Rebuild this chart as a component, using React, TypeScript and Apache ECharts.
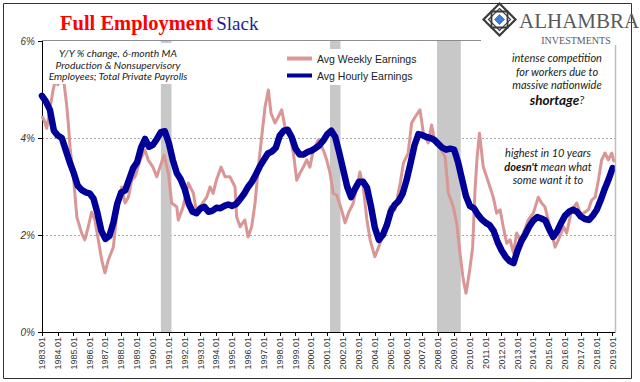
import React, { useEffect, useRef } from "react";
import * as echarts from "echarts";

// ---------- data ----------
const yearTicks: number[] = [
  1983, 1984, 1985, 1986, 1987, 1988, 1989, 1990, 1991, 1992, 1993, 1994, 1995,
  1996, 1997, 1998, 1999, 2000, 2001, 2002, 2003, 2004, 2005, 2006, 2007, 2008,
  2009, 2010, 2011, 2012, 2013, 2014, 2015, 2016, 2017, 2018, 2019,
];
const yTickValues: number[] = [0, 2, 4, 6];

// Avg Hourly Earnings, quarterly from 1983 Q1
const hourlyStart = 1983;
const hourlyStep = 0.25;
const hourlyValues: number[] = [
  4.87, 4.75, 4.58, 4.15, 4.05, 4.0, 3.75, 3.5, 3.28, 3.02, 2.93, 2.88,
  2.86, 2.75, 2.45, 2.08, 1.92, 1.98, 2.25, 2.65, 2.88, 2.92, 3.15, 3.38,
  3.5, 3.8, 3.98, 3.82, 3.86, 3.98, 4.12, 4.14, 3.9, 3.55, 3.28, 3.15,
  2.95, 2.65, 2.48, 2.45, 2.55, 2.58, 2.48, 2.5, 2.56, 2.55, 2.6, 2.63,
  2.6, 2.64, 2.74, 2.85, 2.99, 3.1, 3.25, 3.42, 3.55, 3.68, 3.72, 3.8,
  4.05, 4.15, 4.17, 4.02, 3.78, 3.66, 3.66, 3.71, 3.74, 3.79, 3.85, 3.95,
  4.08, 4.15, 4.02, 3.7, 3.35, 3.0, 2.78, 2.95, 3.1, 3.1, 2.98, 2.6,
  2.15, 1.9, 2.0, 2.2, 2.48, 2.62, 2.7, 2.85, 3.13, 3.48, 3.85, 4.08,
  4.06, 4.02, 4.0, 3.96, 3.88, 3.8, 3.76, 3.78, 3.76, 3.5, 3.15, 2.8,
  2.6, 2.55, 2.42, 2.32, 2.25, 2.2, 2.08, 1.85, 1.68, 1.55, 1.46, 1.42,
  1.68, 1.88, 2.02, 2.18, 2.3, 2.37, 2.34, 2.3, 2.12, 1.96, 2.08, 2.25,
  2.4, 2.48, 2.52, 2.48, 2.38, 2.33, 2.31, 2.4, 2.52, 2.72, 2.95, 3.15,
  3.38,
];

// Avg Weekly Earnings, observation dates (decimal years) and values
const weeklyYears: number[] = [
  1983.0, 1983.15, 1983.3, 1983.5, 1983.7, 1983.85, 1984.0, 1984.2, 1984.4, 1984.55,
  1984.66, 1984.77, 1985.0, 1985.2, 1985.5, 1985.7, 1985.92, 1986.13, 1986.34, 1986.55,
  1986.77, 1986.97, 1987.18, 1987.5, 1987.7, 1988.03, 1988.24, 1988.45, 1988.66, 1988.87,
  1989.2, 1989.5, 1989.7, 1990.0, 1990.24, 1990.44, 1990.7, 1990.97, 1991.18, 1991.5,
  1991.6, 1991.9, 1992.23, 1992.55, 1992.76, 1992.97, 1993.18, 1993.39, 1993.6, 1993.8,
  1994.0, 1994.3, 1994.55, 1994.86, 1995.18, 1995.28, 1995.5, 1995.8, 1996.0, 1996.23,
  1996.44, 1996.65, 1996.86, 1997.07, 1997.28, 1997.45, 1997.7, 1997.9, 1998.12, 1998.33,
  1998.65, 1998.86, 1999.07, 1999.28, 1999.49, 1999.7, 1999.9, 2000.12, 2000.43, 2000.75,
  2000.96, 2001.17, 2001.38, 2001.6, 2001.9, 2002.12, 2002.33, 2002.64, 2003.06, 2003.27,
  2003.5, 2003.7, 2004.0, 2004.33, 2004.64, 2004.96, 2005.27, 2005.6, 2005.8, 2006.1,
  2006.32, 2006.53, 2006.85, 2007.06, 2007.37, 2007.58, 2007.8, 2008.1, 2008.43, 2008.64,
  2008.95, 2009.16, 2009.37, 2009.58, 2009.75, 2009.96, 2010.17, 2010.32, 2010.45, 2010.6,
  2010.84, 2011.05, 2011.26, 2011.47, 2011.68, 2011.9, 2012.1, 2012.32, 2012.53, 2012.74,
  2012.95, 2013.16, 2013.37, 2013.68, 2014.0, 2014.31, 2014.52, 2014.73, 2014.94, 2015.15,
  2015.37, 2015.58, 2015.9, 2016.1, 2016.42, 2016.74, 2016.95, 2017.16, 2017.47, 2017.68,
  2017.9, 2018.1, 2018.31, 2018.52, 2018.73, 2018.95, 2019.1,
];
const weeklyValues: number[] = [
  4.45, 4.35, 4.2, 4.6, 4.99, 5.2, 5.1, 5.25, 5.1, 4.7,
  4.3, 3.81, 3.13, 2.37, 2.04, 1.9, 2.17, 2.47, 2.31, 1.9,
  1.48, 1.22, 1.48, 1.75, 2.37, 2.99, 2.66, 2.78, 3.13, 3.2,
  3.55, 3.75, 3.55, 3.4, 3.2, 3.4, 3.65, 3.28, 2.66, 2.58,
  2.31, 2.58, 3.07, 2.86, 2.45, 2.58, 2.68, 2.78, 2.99, 2.86,
  3.13, 3.4, 3.2, 3.2, 2.99, 2.37, 2.17, 2.31, 1.96, 2.17,
  2.66, 3.4, 4.02, 4.64, 4.99, 4.51, 4.31, 4.43, 4.58, 4.23,
  4.02, 3.69, 3.13, 3.28, 3.4, 3.55, 3.4, 3.75, 3.96, 3.75,
  3.55, 3.28, 2.86, 2.82, 2.52, 2.25, 2.45, 2.66, 3.3, 2.99,
  2.31, 1.9, 1.55, 1.83, 2.17, 2.58, 2.52, 3.07, 3.48, 3.69,
  4.31, 4.43, 4.58, 4.1, 3.9, 4.27, 3.9, 3.81, 3.61, 2.86,
  2.58, 2.25, 1.63, 1.07, 0.8, 1.22, 1.75, 2.93, 3.6, 4.1,
  3.4, 3.2, 2.99, 2.78, 2.45, 2.52, 2.17, 1.83, 1.9, 1.63,
  2.04, 1.9, 2.04, 2.31, 2.45, 2.78, 2.66, 2.58, 2.31, 2.04,
  1.75, 1.9, 2.17, 2.04, 2.52, 2.66, 2.45, 2.45, 2.52, 2.72,
  2.78, 3.13, 3.55, 3.69, 3.55, 3.69, 3.5,
];

// NBER recessions (decimal years)
const recessionStarts: number[] = [1990.5, 2001.17, 2007.92];
const recessionEnds: number[] = [1991.17, 2001.83, 2009.42];

const seriesNames = ["Avg Weekly Earnings", "Avg Hourly Earnings"];

export default function App() {
  const ref = useRef<HTMLDivElement>(null);

  useEffect(() => {
    if (!ref.current) return;
    const chart = echarts.init(ref.current, undefined, { renderer: "svg" });

    const hourlyData = hourlyValues.map((v, i) => [hourlyStart + i * hourlyStep, v]);
    const weeklyData = weeklyValues.map((v, i) => [weeklyYears[i], v]);
    const areas = recessionStarts.map((s, i) => [{ xAxis: s }, { xAxis: recessionEnds[i] }]);

    const annoFont = "italic 10.3px Lato";
    const noteFont = "italic 11px Lato";

    chart.setOption({
      animation: false,
      backgroundColor: "#ffffff",
      grid: { left: 42, right: 25, top: 41, bottom: 50, containLabel: false },
      legend: {
        orient: "vertical",
        left: 283,
        top: 49,
        itemWidth: 25,
        itemHeight: 4,
        itemGap: 6,
        padding: [4, 6, 4, 4],
        backgroundColor: "#ffffff",
        icon: "rect",
        data: seriesNames,
        textStyle: { fontFamily: "Liberation Sans", fontSize: 10.5, color: "#222" },
      },
      xAxis: {
        type: "value",
        min: 1983,
        max: 2019.15,
        interval: 1,
        axisLine: { show: true, lineStyle: { color: "#000", width: 1 } },
        axisTick: { show: true, length: 4, customValues: yearTicks, lineStyle: { color: "#000" } },
        axisLabel: {
          customValues: yearTicks,
          rotate: 90,
          fontSize: 9,
          fontFamily: "Liberation Sans",
          color: "#333",
          margin: 5,
          formatter: (v: number) => `${v}.01`,
        },
        splitLine: { show: false },
      },
      yAxis: {
        type: "value",
        min: 0,
        max: 6,
        interval: 2,
        axisLine: { show: true, lineStyle: { color: "#000", width: 1 } },
        axisTick: { show: true, length: 4, lineStyle: { color: "#000" } },
        axisLabel: {
          fontSize: 10,
          fontStyle: "italic",
          fontFamily: "Liberation Sans",
          color: "#333",
          margin: 7,
          formatter: (v: number) => (yTickValues.includes(v) ? `${v}%` : ""),
        },
        splitLine: {
          show: true,
          lineStyle: {
            color: ["rgba(0,0,0,0)", "#a6a6a6", "#a6a6a6", "rgba(0,0,0,0)"],
            type: [2, 2],
            width: 1,
          },
        },
      },
      series: [
        {
          type: "line",
          name: "recessions",
          data: [],
          silent: true,
          z: 1,
          markArea: {
            silent: true,
            itemStyle: { color: "#c8c8c8" },
            data: areas,
          },
        },
        {
          type: "line",
          name: seriesNames[0],
          data: weeklyData,
          showSymbol: false,
          symbol: "none",
          z: 2,
          color: "#d99694",
          lineStyle: { color: "#d99694", width: 3, join: "round" },
        },
        {
          type: "line",
          name: seriesNames[1],
          data: hourlyData,
          showSymbol: false,
          symbol: "none",
          z: 3,
          color: "#000099",
          lineStyle: { color: "#000099", width: 6.5, join: "round", cap: "round" },
        },
      ],
      graphic: [
        {
          type: "rect",
          z: 0,
          shape: { x: 3.5, y: 3.5, width: 628, height: 375 },
          style: { fill: "none", stroke: "#333", lineWidth: 1 },
        },
        {
          type: "line",
          z: 5,
          shape: { x1: 42, y1: 40.5, x2: 481, y2: 40.5 },
          style: { stroke: "#8c8c8c", lineWidth: 1 },
        },
        {
          type: "line",
          z: 5,
          shape: { x1: 615.5, y1: 45, x2: 615.5, y2: 332 },
          style: { stroke: "#bdbdbd", lineWidth: 1.5 },
        },
        {
          type: "rect",
          z: 50,
          shape: { x: 48, y: 43, width: 142, height: 41 },
          style: { fill: "#ffffff" },
        },
        {
          type: "text",
          z: 51,
          x: 118,
          y: 53,
          style: { text: "Y/Y % change, 6-month MA", font: annoFont, fill: "#222", align: "center", verticalAlign: "middle" },
        },
        {
          type: "text",
          z: 51,
          x: 118,
          y: 64.5,
          style: { text: "Production & Nonsupervisory", font: annoFont, fill: "#222", align: "center", verticalAlign: "middle" },
        },
        {
          type: "text",
          z: 51,
          x: 118,
          y: 76,
          style: { text: "Employees; Total Private Payrolls", font: annoFont, fill: "#222", align: "center", verticalAlign: "middle" },
        },
        {
          type: "text",
          z: 51,
          x: 557,
          y: 57,
          style: { text: "intense competition", font: noteFont, fill: "#222", align: "center", verticalAlign: "middle" },
        },
        {
          type: "text",
          z: 51,
          x: 557,
          y: 71,
          style: { text: "for workers due to", font: noteFont, fill: "#222", align: "center", verticalAlign: "middle" },
        },
        {
          type: "text",
          z: 51,
          x: 557,
          y: 84.5,
          style: { text: "massive nationwide", font: noteFont, fill: "#222", align: "center", verticalAlign: "middle" },
        },
        {
          type: "text",
          z: 51,
          x: 557,
          y: 99.5,
          style: {
            text: "{b|shortage}{r|?}",
            align: "center",
            verticalAlign: "middle",
            rich: {
              b: { font: "italic bold 13.5px Lato", fill: "#111" },
              r: { font: "italic 12px Lato", fill: "#222" },
            },
          },
        },
        {
          type: "text",
          z: 51,
          x: 548,
          y: 152,
          style: { text: "highest in 10 years", font: noteFont, fill: "#222", align: "center", verticalAlign: "middle" },
        },
        {
          type: "text",
          z: 51,
          x: 548,
          y: 166,
          style: {
            text: "{b|doesn't}{r| mean what}",
            align: "center",
            verticalAlign: "middle",
            rich: {
              b: { font: "italic bold 11px Lato", fill: "#111" },
              r: { font: noteFont, fill: "#222" },
            },
          },
        },
        {
          type: "text",
          z: 51,
          x: 548,
          y: 179,
          style: { text: "some want it to", font: noteFont, fill: "#222", align: "center", verticalAlign: "middle" },
        },
        {
          type: "text",
          z: 60,
          x: 60,
          y: 23,
          style: {
            text: "{a|Full Employment}{b|Slack}",
            verticalAlign: "middle",
            rich: {
              a: { font: "bold 20.5px 'Liberation Serif'", fill: "#ff0000" },
              b: { font: "19px 'Liberation Serif'", fill: "#1f1f8c", padding: [0, 0, 0, 3] },
            },
          },
        },
        {
          type: "group",
          z: 60,
          x: 499.5,
          y: 19.5,
          children: [
            {
              type: "polygon",
              shape: { points: [[0, -16], [16, 0], [0, 16], [-16, 0]] },
              style: { fill: "#ffffff", stroke: "#3a3a3a", lineWidth: 2.2 },
            },
            {
              type: "rect",
              shape: { x: -8, y: -8, width: 16, height: 16 },
              style: { fill: "none", stroke: "#3a3a3a", lineWidth: 1.8 },
            },
            {
              type: "polygon",
              shape: { points: [[0, -11], [11, 0], [0, 11], [-11, 0]] },
              style: { fill: "none", stroke: "#3a3a3a", lineWidth: 1.2 },
            },
            {
              type: "polygon",
              shape: { points: [[0, -5], [5, 0], [0, 5], [-5, 0]] },
              style: { fill: "#3f7fcf", stroke: "#3f7fcf", lineWidth: 1 },
            },
          ],
        },
        {
          type: "text",
          z: 60,
          x: 519,
          y: 21,
          style: { text: "ALHAMBRA", font: "21px 'Liberation Serif'", fill: "#5a5a5a", verticalAlign: "middle" },
        },
        {
          type: "text",
          z: 60,
          x: 576,
          y: 40,
          style: { text: "INVESTMENTS", font: "10px 'Liberation Serif'", fill: "#5a5a5a", align: "center", verticalAlign: "middle" },
        },
      ],
    });

    return () => chart.dispose();
  }, []);

  return (
    <div
      ref={ref}
      style={{ position: "absolute", left: 0, top: 0, width: 640, height: 382 }}
    />
  );
}
